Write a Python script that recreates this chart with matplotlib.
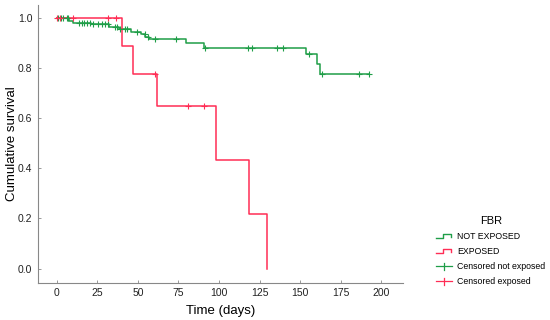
import numpy as np
import matplotlib
matplotlib.use("Agg")
import matplotlib.pyplot as plt
from matplotlib.legend_handler import HandlerBase
from matplotlib.lines import Line2D

plt.rcParams['font.family'] = ['Liberation Sans', 'DejaVu Sans']

GREEN = '#1f9e48'
RED = '#ff2d55'

# not exposed: step times and survival levels
green_t = [0, 7.8, 9.8, 21, 32, 38.6, 45.6, 52, 54.7, 56.8, 79.8, 90.6, 153.4, 160.4, 162.4, 192.4]
green_s = [1.0, 0.99, 0.982, 0.975, 0.966, 0.957, 0.946, 0.936, 0.926, 0.916, 0.902, 0.88, 0.856, 0.817, 0.778, 0.778]
green_cens = [1.0, 2.5, 3.7, 6.2, 7.1, 14, 15.4, 17, 18.5, 20.5, 22.5, 25.6, 27.7, 29.7, 31.8,
              35.9, 37.3, 39, 42, 43.5, 49.2, 54.3, 56.4, 60.5, 73.4, 91.3, 117.9, 120,
              135.4, 139.4, 155.5, 163.4, 186.2, 192.4]

# exposed
red_t = [0, 40, 47.2, 61.6, 98, 118.4, 129.5]
red_s = [1.0, 0.889, 0.778, 0.648, 0.432, 0.216, 0.0]
red_cens = [0, 2, 10.2, 31.8, 36.4, 60.5, 81, 91]


def surv_at(t, times, levels):
    i = np.searchsorted(times, t, side='right') - 1
    return np.asarray(levels)[i]


class StepHandler(HandlerBase):
    def __init__(self, color):
        super().__init__()
        self.color = color

    def create_artists(self, legend, orig_handle, xdescent, ydescent, width, height, fontsize, trans):
        x = [0, width * 0.45, width * 0.45, width * 0.9, width * 0.9]
        y = [height * 0.2, height * 0.2, height * 0.75, height * 0.75, height * 0.35]
        return [Line2D(x, y, color=self.color, lw=1.0, transform=trans)]


class CensorHandler(HandlerBase):
    def __init__(self, color):
        super().__init__()
        self.color = color

    def create_artists(self, legend, orig_handle, xdescent, ydescent, width, height, fontsize, trans):
        h = Line2D([0, width], [height * 0.4, height * 0.4], color=self.color, lw=0.9, transform=trans)
        v = Line2D([width * 0.5, width * 0.5], [-height * 0.15, height * 0.95], color=self.color, lw=0.9, transform=trans)
        return [h, v]


fig = plt.figure(figsize=(5.5, 3.2), dpi=100)
ax = fig.add_axes([0.069, 0.117, 0.663, 0.867])

g_line, = ax.plot(green_t, green_s, drawstyle='steps-post', color=GREEN, lw=1.1)
r_line, = ax.plot(red_t, red_s, drawstyle='steps-post', color=RED, lw=1.1)
g_c, = ax.plot(green_cens, surv_at(green_cens, green_t, green_s), '+', color=GREEN, ms=5, mew=0.8)
r_c, = ax.plot(red_cens, surv_at(red_cens, red_t, red_s), '+', color=RED, ms=5, mew=0.8)

ax.set_xlim(-11.5, 213)
ax.set_ylim(-0.056, 1.052)
ax.set_xticks([0, 25, 50, 75, 100, 125, 150, 175, 200])
ax.set_yticks([0.0, 0.2, 0.4, 0.6, 0.8, 1.0])
ax.set_yticklabels(['0.0', '0.2', '0.4', '0.6', '0.8', '1.0'])
ax.tick_params(direction='in', length=2, width=0.6, colors='#888888', labelcolor='#222222', labelsize=7.5, pad=4)
for s in ['top', 'right']:
    ax.spines[s].set_visible(False)
for s in ['left', 'bottom']:
    ax.spines[s].set_color('#888888')
    ax.spines[s].set_linewidth(0.8)

ax.set_xlabel('Time (days)', fontsize=9.5, labelpad=5)
ax.set_ylabel('Cumulative survival', fontsize=9.5)
ax.yaxis.set_label_coords(-0.056, 0.5)

leg = fig.legend([g_line, r_line, g_c, r_c],
                 ['NOT EXPOSED', 'EXPOSED', 'Censored not exposed', 'Censored exposed'],
                 handler_map={g_line: StepHandler(GREEN), r_line: StepHandler(RED),
                              g_c: CensorHandler(GREEN), r_c: CensorHandler(RED)},
                 title='FBR', loc='upper left', bbox_to_anchor=(0.779, 0.35),
                 frameon=False, fontsize=6.3, title_fontsize=8,
                 handlelength=1.8, handletextpad=0.6, labelspacing=0.68)

fig.savefig('out.png', dpi=100)
